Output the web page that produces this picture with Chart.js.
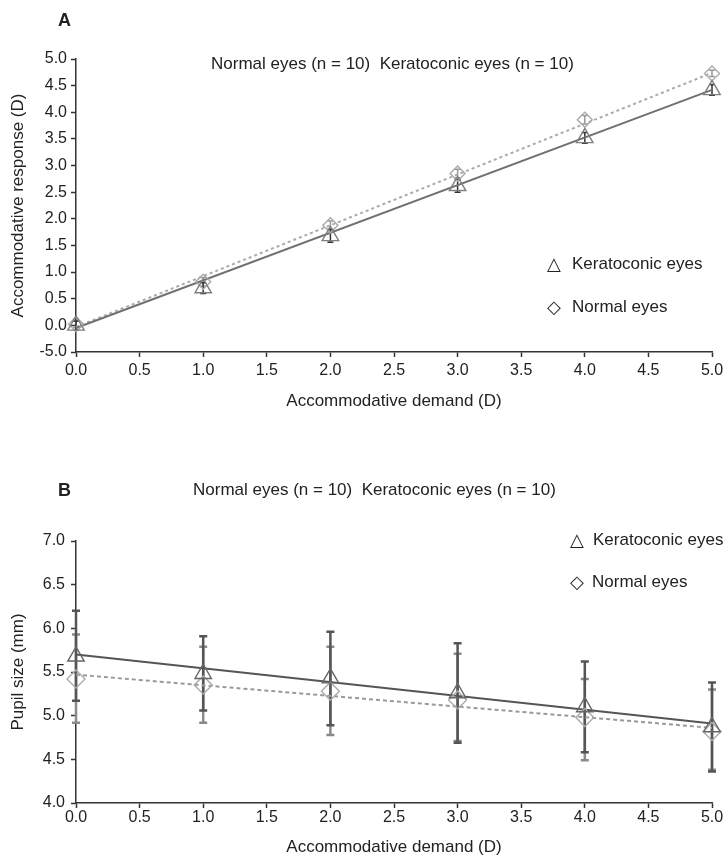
<!DOCTYPE html>
<html>
<head>
<meta charset="utf-8">
<script src="https://cdn.jsdelivr.net/npm/chart.js@4.4.1/dist/chart.umd.min.js"></script>
<style>
  body { margin: 0; background: #fff; width: 728px; height: 866px; position: relative; overflow: hidden;
         font-family: "Liberation Sans", Arial, sans-serif; color: #222; }
  .panel { position: absolute; left: 0; width: 728px; }
  .txt { position: absolute; font-size: 17px; line-height: 20px; white-space: pre; }
  .sym { position: absolute; font-family: "DejaVu Sans"; font-size: 18px; line-height: 20px; }
  .tag { position: absolute; font-weight: bold; font-size: 18px; line-height: 20px; }
</style>
</head>
<body>
<div class="panel" style="top:0;height:430px"><canvas id="chartA" width="728" height="430"></canvas></div>
<div class="panel" style="top:430px;height:436px"><canvas id="chartB" width="728" height="436"></canvas></div>

<div class="tag" style="left:58px;top:10px">A</div>
<div class="txt" style="left:211px;top:54px">Normal eyes (n = 10)  Keratoconic eyes (n = 10)</div>
<div class="sym" style="left:547px;top:254px">△</div>
<div class="txt" style="left:572px;top:254px">Keratoconic eyes</div>
<div class="sym" style="left:547px;top:297px">◇</div>
<div class="txt" style="left:572px;top:297px">Normal eyes</div>

<div class="tag" style="left:58px;top:480px">B</div>
<div class="txt" style="left:193px;top:480px">Normal eyes (n = 10)  Keratoconic eyes (n = 10)</div>
<div class="sym" style="left:570px;top:530px">△</div>
<div class="txt" style="left:593px;top:530px">Keratoconic eyes</div>
<div class="sym" style="left:570px;top:572px">◇</div>
<div class="txt" style="left:592px;top:572px">Normal eyes</div>

<script>
// x: accommodative demand (D)
const demand = [0, 1, 2, 3, 4, 5];
const fitX = [0, 5];
const xTickLabels = ["0.0", "0.5", "1.0", "1.5", "2.0", "2.5", "3.0", "3.5", "4.0", "4.5", "5.0"];

// A: accommodative response (D)
const respKerat = [0.0, 0.70, 1.68, 2.62, 3.52, 4.42];
const respKeratSd = [0.08, 0.10, 0.12, 0.12, 0.10, 0.10];
const respNormal = [0.02, 0.82, 1.88, 2.85, 3.86, 4.73];
const respNormalSd = [0.06, 0.08, 0.08, 0.08, 0.08, 0.06];
const respKeratFit = [-0.05, 4.42];
const respNormalFit = [-0.03, 4.74];
// bottom tick is printed "-5.0" in the figure
const respTickLabels = ["-5.0", "0.0", "0.5", "1.0", "1.5", "2.0", "2.5", "3.0", "3.5", "4.0", "4.5", "5.0"];

// B: pupil size (mm)
const pupilKerat = [5.68, 5.48, 5.43, 5.26, 5.10, 4.87];
const pupilKeratLo = [5.17, 5.06, 4.89, 4.69, 4.58, 4.36];
const pupilKeratHi = [6.20, 5.91, 5.96, 5.83, 5.62, 5.38];
const pupilNormal = [5.42, 5.35, 5.28, 5.18, 4.98, 4.82];
const pupilNormalLo = [4.92, 4.92, 4.78, 4.71, 4.49, 4.38];
const pupilNormalHi = [5.93, 5.79, 5.79, 5.71, 5.42, 5.30];
const pupilKeratFit = [5.70, 4.91];
const pupilNormalFit = [5.47, 4.86];
const pupilTickLabels = ["4.0", "4.5", "5.0", "5.5", "6.0", "6.5", "7.0"];

Chart.defaults.font.family = '"Liberation Sans", Arial, sans-serif';
Chart.defaults.color = "#222";

const toPoints = (xs, ys) => xs.map((x, i) => ({ x: x, y: ys[i] }));

// error bars drawn with the chart's own scales
function errorBars(sets) {
  return {
    id: "errorBars",
    beforeDatasetsDraw(chart) {
      const { ctx, scales: { x, y } } = chart;
      sets.forEach((set) => {
        ctx.save();
        ctx.strokeStyle = set.color;
        ctx.lineWidth = set.width;
        demand.forEach((d, i) => {
          const px = x.getPixelForValue(d);
          const top = y.getPixelForValue(set.hi[i]);
          const bot = y.getPixelForValue(set.lo[i]);
          ctx.beginPath();
          ctx.moveTo(px, top);
          ctx.lineTo(px, bot);
          ctx.moveTo(px - set.cap, top);
          ctx.lineTo(px + set.cap, top);
          ctx.moveTo(px - set.cap, bot);
          ctx.lineTo(px + set.cap, bot);
          ctx.stroke();
        });
        ctx.restore();
      });
    },
  };
}

function xScale(tickPad, titlePad, height) {
  return {
    type: "linear", min: 0, max: 5,
    border: { color: "#333", width: 1.5 },
    grid: { drawOnChartArea: false, drawTicks: true, tickLength: 5, tickColor: "#333", tickWidth: 1.5 },
    ticks: { stepSize: 0.5, padding: tickPad, autoSkip: false, maxRotation: 0, font: { size: 16 },
             callback: (v, i) => xTickLabels[i] },
    title: { display: true, text: "Accommodative demand (D)", font: { size: 17 }, padding: { top: 0, bottom: titlePad } },
    afterFit: (s) => { s.height = height; },
  };
}

function yScale(min, max, labels, text, tickPad) {
  return {
    min: min, max: max,
    border: { color: "#333", width: 1.5 },
    grid: { drawOnChartArea: false, drawTicks: true, tickLength: 5, tickColor: "#333", tickWidth: 1.5 },
    ticks: { stepSize: 0.5, padding: tickPad, autoSkip: false, font: { size: 16 },
             callback: (v, i) => labels[i] },
    title: { display: true, text: text, font: { size: 17 }, padding: { top: 8, bottom: 0 } },
    afterFit: (s) => { s.width = 76; },
  };
}

function markerSet(label, ys, style, radius, color) {
  return {
    label: label, data: toPoints(demand, ys), showLine: false, clip: false,
    pointStyle: style, pointRadius: radius, pointBorderColor: color,
    pointBackgroundColor: "rgba(255,255,255,0)", pointBorderWidth: 1.4,
  };
}

function fitSet(ys, color, dash) {
  return {
    data: toPoints(fitX, ys), showLine: true, clip: false, pointRadius: 0,
    borderColor: color, borderWidth: 2, borderDash: dash,
  };
}

const baseOptions = {
  responsive: false, animation: false,
  plugins: { legend: { display: false }, tooltip: { enabled: false } },
};

// Chart A
new Chart(document.getElementById("chartA"), {
  type: "scatter",
  data: {
    datasets: [
      markerSet("Keratoconic eyes", respKerat, "triangle", 9.5, "#808080"),
      markerSet("Normal eyes", respNormal, "rectRot", 7.5, "#aaa"),
      fitSet(respKeratFit, "#707070", []),
      fitSet(respNormalFit, "#aaa", [3, 3]),
    ],
  },
  options: {
    ...baseOptions,
    layout: { padding: { top: 59, left: 0, right: 16, bottom: 8 } },
    scales: {
      x: xScale(4, 10, 70),
      y: yScale(-0.5, 5, respTickLabels, "Accommodative response (D)", 4),
    },
  },
  plugins: [errorBars([
    { hi: respNormal.map((v, i) => v + respNormalSd[i]), lo: respNormal.map((v, i) => v - respNormalSd[i]), color: "#999", width: 1.5, cap: 3 },
    { hi: respKerat.map((v, i) => v + respKeratSd[i]), lo: respKerat.map((v, i) => v - respKeratSd[i]), color: "#333", width: 1.5, cap: 3 },
  ])],
});

// Chart B
new Chart(document.getElementById("chartB"), {
  type: "scatter",
  data: {
    datasets: [
      markerSet("Keratoconic eyes", pupilKerat, "triangle", 9.5, "#666"),
      markerSet("Normal eyes", pupilNormal, "rectRot", 9, "#aaa"),
      fitSet(pupilKeratFit, "#555", []),
      fitSet(pupilNormalFit, "#999", [4, 3]),
    ],
  },
  options: {
    ...baseOptions,
    layout: { padding: { top: 111, left: 0, right: 16, bottom: 3 } },
    scales: {
      x: xScale(0, 5, 60),
      y: yScale(4, 7, pupilTickLabels, "Pupil size (mm)", 6),
    },
  },
  plugins: [errorBars([
    { hi: pupilNormalHi, lo: pupilNormalLo, color: "#8a8a8a", width: 2.5, cap: 4 },
    { hi: pupilKeratHi, lo: pupilKeratLo, color: "#555", width: 2.5, cap: 4 },
  ])],
});
</script>
</body>
</html>
